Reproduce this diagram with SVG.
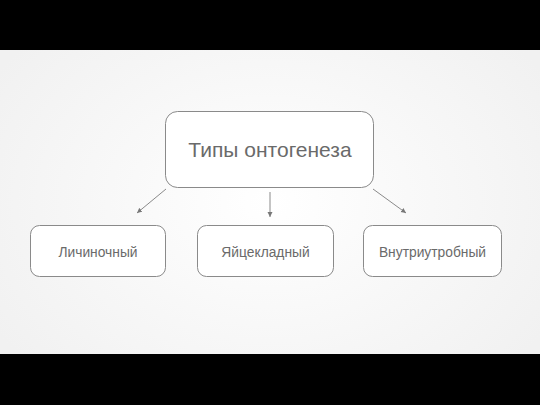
<svg xmlns="http://www.w3.org/2000/svg" width="540" height="405" viewBox="0 0 540 405">
<defs>
<radialGradient id="bg" cx="50%" cy="50%" r="60%">
<stop offset="0" stop-color="#ffffff"/>
<stop offset="1" stop-color="#f1f1f1"/>
</radialGradient>
<marker id="ah" markerWidth="6" markerHeight="6" refX="5" refY="3" orient="auto" markerUnits="userSpaceOnUse">
<path d="M0,0.5 L5,3 L0,5.5 Z" fill="#777"/>
</marker>
<style>
.box{fill:#fff;stroke:#8a8a8a;stroke-width:1}
.t{font-family:"Liberation Sans",Arial,sans-serif;fill:#6a6a6a;text-anchor:middle}
.c{stroke:#8a8a8a;stroke-width:1;fill:none;marker-end:url(#ah)}
</style>
</defs>
<rect x="0" y="0" width="540" height="405" fill="url(#bg)"/>
<rect x="0" y="0" width="540" height="50" fill="#000"/>
<rect x="0" y="354" width="540" height="51" fill="#000"/>
<g id="connectors">
<line class="c" x1="166" y1="189" x2="137" y2="213"/>
<line class="c" x1="270" y1="192" x2="270" y2="217"/>
<line class="c" x1="373" y1="189" x2="406" y2="213"/>
</g>
<g id="root">
<rect class="box" x="165.5" y="111.5" width="208" height="76" rx="12"/>
<text class="t" x="270" y="157" font-size="21">Типы онтогенеза</text>
</g>
<g id="n1">
<rect class="box" x="30.5" y="225.5" width="135" height="51" rx="9"/>
<text class="t" x="98" y="256.5" font-size="13.8">Личиночный</text>
</g>
<g id="n2">
<rect class="box" x="197.5" y="225.5" width="136" height="51" rx="9"/>
<text class="t" x="265.5" y="256.5" font-size="13.8">Яйцекладный</text>
</g>
<g id="n3">
<rect class="box" x="363.5" y="225.5" width="138" height="51" rx="9"/>
<text class="t" x="432.5" y="256.5" font-size="13.8">Внутриутробный</text>
</g>
</svg>
